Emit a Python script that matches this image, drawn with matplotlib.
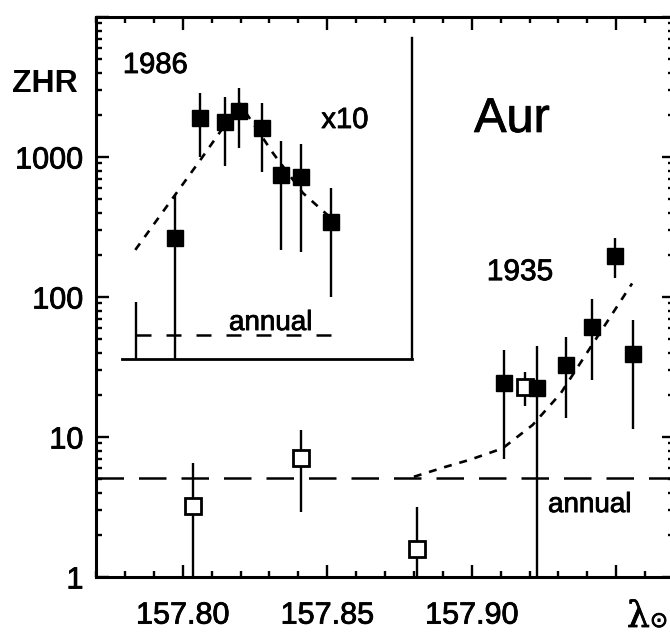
import numpy as np
import matplotlib
matplotlib.use("Agg")
import matplotlib.pyplot as plt
import matplotlib.patheffects as pe
from matplotlib.ticker import FixedLocator, MultipleLocator, LogLocator, NullFormatter, NullLocator

plt.rcParams['font.family'] = ['Liberation Sans', 'DejaVu Sans']

# 1935 return (filled squares)
lam_1935 = [157.9112, 157.9226, 157.9326, 157.9415, 157.9496, 157.9559]
zhr_1935 = [24.3, 22.4, 32.7, 61.0, 197.0, 39.0]
zhr_1935_hi = [41.8, 45.0, 51.6, 97.0, 265.0, 68.5]
zhr_1935_lo = [7.0, 0.5, 13.7, 25.5, 137.0, 11.4]

# other years (open squares)
lam_other = [157.8036, 157.8409, 157.8811, 157.9186]
zhr_other = [3.2, 7.1, 1.58, 22.7]
zhr_other_hi = [6.5, 11.2, 3.16, 29.0]
zhr_other_lo = [0.5, 2.9, 0.5, 16.6]

# model curve through the 1935 rates
lam_fit35 = [157.8800, 157.8907, 157.8996, 157.9107, 157.9211, 157.9308, 157.9412, 157.9555]
zhr_fit35 = [5.2, 6.1, 6.9, 8.3, 12.2, 20.5, 44.0, 125.0]

annual_zhr = 5.1

# 1986 outburst, plotted x10 in the inset
lam_1986 = [157.7975, 157.8061, 157.8145, 157.8195, 157.8276, 157.8340, 157.8408, 157.8512]
zhr_1986 = [262, 1890, 1786, 2142, 1603, 744, 723, 345]
zhr_1986_hi = [535, 2850, 2700, 3094, 2445, 1309, 1238, 597]
zhr_1986_lo = [20, 1005, 863, 1153, 785, 217, 209, 100]
lam_1986_limit = 157.7839
zhr_1986_limit = 92

lam_fit86 = [157.7836, 157.8061, 157.8198, 157.8313, 157.8416, 157.8517]
zhr_fit86 = [217, 952, 2400, 1062, 553, 360]
lam_annual86 = [157.7839, 157.8516]
annual86_zhr = 53.5

# slightly heavier strokes on the lettering
bold_ink = [pe.withStroke(linewidth=0.6, foreground='black')]

fig = plt.figure(figsize=(6.7, 6.33), dpi=100)
ax = fig.add_axes([96/670, 56/633, 578/670, 560/633])
ax.set_yscale('log')
ax.set_xlim(157.77, 157.97)
ax.set_ylim(1, 1e4)

ebar = dict(fmt='none', ecolor='black', elinewidth=1.7, capsize=0, zorder=2)

# annual background and 1935 model
ax.axhline(annual_zhr, color='black', lw=1.8, ls=(0, (11, 6)), zorder=1)
ax.plot(lam_fit35, zhr_fit35, color='black', lw=1.9, ls=(0, (3, 3)), zorder=1)

y = np.array(zhr_other)
ax.errorbar(lam_other, y, yerr=[y - np.array(zhr_other_lo), np.array(zhr_other_hi) - y], **ebar)
ax.plot(lam_other, y, 's', ms=11, mfc='white', mec='black', mew=2, zorder=3)

y = np.array(zhr_1935)
ax.errorbar(lam_1935, y, yerr=[y - np.array(zhr_1935_lo), np.array(zhr_1935_hi) - y], **ebar)
ax.plot(lam_1935, y, 's', ms=12, color='black', zorder=3)

ax.text(157.9408, 2.91, 'annual', ha='center', va='baseline', fontsize=20, path_effects=bold_ink)
ax.text(157.9167, 132, '1935', ha='center', va='baseline', fontsize=21.5, path_effects=bold_ink)
ax.text(157.9139, 1510, 'Aur', ha='center', va='baseline', fontsize=35, path_effects=bold_ink)

# ticks
ax.xaxis.set_major_locator(FixedLocator([157.80, 157.85, 157.90, 157.95]))
ax.xaxis.set_minor_locator(MultipleLocator(0.01))
ax.set_xticklabels(['157.80', '157.85', '157.90', ''])
ax.yaxis.set_major_locator(FixedLocator([1, 10, 100, 1000, 10000]))
ax.yaxis.set_minor_locator(LogLocator(base=10, subs=np.arange(2, 10)))
ax.yaxis.set_minor_formatter(NullFormatter())
ax.set_yticklabels(['1', '10', '100', '1000', ''])
ax.tick_params(which='both', direction='in', top=True, right=True, width=1.7, labelsize=22)
ax.tick_params(which='major', length=9)
ax.tick_params(which='minor', length=4.5)
ax.tick_params(axis='x', pad=17)
ax.tick_params(axis='y', pad=9)
for lab in ax.get_xticklabels() + ax.get_yticklabels():
    lab.set_path_effects(bold_ink)
for s in ax.spines.values():
    s.set_linewidth(2.2)

# inset for 1986 (same ZHR scale, values x10)
ins = ax.inset_axes([157.7789, 36.07, 157.8792 - 157.7789, 7079 - 36.07], transform=ax.transData)
ins.set_yscale('log')
ins.set_xlim(157.7789, 157.8792)
ins.set_ylim(36.07, 7079)
ins.patch.set_alpha(0)
ins.spines['left'].set_visible(False)
ins.spines['top'].set_visible(False)
ins.spines['right'].set_linewidth(1.7)
ins.spines['bottom'].set_linewidth(2.0)
ins.set_xticks([])
ins.set_yticks([])
ins.yaxis.set_minor_locator(NullLocator())

ins.plot(lam_annual86, [annual86_zhr] * 2, color='black', lw=1.8, ls=(0, (6, 6)))
ins.plot(lam_fit86, zhr_fit86, color='black', lw=1.9, ls=(0, (3, 3)))
ins.vlines(lam_1986_limit, 1, zhr_1986_limit, color='black', lw=1.7)
y = np.array(zhr_1986, dtype=float)
ins.errorbar(lam_1986, y, yerr=[y - np.array(zhr_1986_lo), np.array(zhr_1986_hi) - y], **ebar)
ins.plot(lam_1986, y, 's', ms=12, color='black', zorder=3)

ax.text(157.8304, 58.1, 'annual', ha='center', va='baseline', fontsize=20, path_effects=bold_ink)
ax.text(157.7905, 3981, '1986', ha='center', va='baseline', fontsize=21, path_effects=bold_ink)
ax.text(157.8561, 1611, 'x10', ha='center', va='baseline', fontsize=21, path_effects=bold_ink)

fig.text(44.5/670, 1 - 84/633, 'ZHR', ha='center', va='center', fontsize=23, fontweight='bold')

# x-axis label: solar longitude symbol at the right end
fig.text(627/670, 1 - 627/633, 'λ', ha='left', va='baseline',
         fontsize=26, family='DejaVu Serif', path_effects=bold_ink)
fig.text(650/670, 1 - 627/633, '⊙', ha='left', va='baseline',
         fontsize=15.5, family='DejaVu Sans', path_effects=bold_ink)

fig.savefig('out.png', dpi=100, facecolor='white')
